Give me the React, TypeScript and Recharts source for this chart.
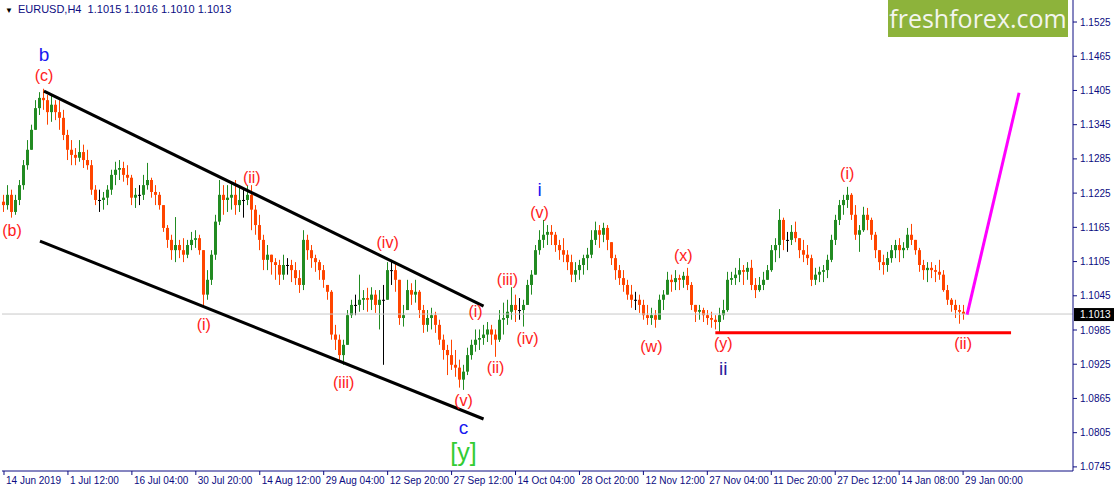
import { ComposedChart, Bar, XAxis, YAxis, ReferenceLine, ReferenceDot } from 'recharts'

// EURUSD H4, each candle here folds four H4 bars together
const highs = [
  1.1222, 1.1239, 1.1231, 1.1222, 1.1248, 1.1283, 1.1318, 1.1345, 1.1388, 1.1402,
  1.1408, 1.1397, 1.1397, 1.1388, 1.1388, 1.1371, 1.1336, 1.1318, 1.1304, 1.1318,
  1.1310, 1.1301, 1.1283, 1.1239, 1.1231, 1.1227, 1.1239, 1.1266, 1.1280, 1.1283,
  1.1280, 1.1274, 1.1257, 1.1234, 1.1239, 1.1257, 1.1278, 1.1252, 1.1239, 1.1227,
  1.1204, 1.1169, 1.1152, 1.1183, 1.1143, 1.1146, 1.1143, 1.1157, 1.1160, 1.1152,
  1.1125, 1.1090, 1.1125, 1.1187, 1.1248, 1.1239, 1.1239, 1.1243, 1.1248, 1.1234,
  1.1231, 1.1239, 1.1239, 1.1204, 1.1187, 1.1152, 1.1134, 1.1117, 1.1111, 1.1108,
  1.1117, 1.1111, 1.1108, 1.1104, 1.1090, 1.1160, 1.1152, 1.1134, 1.1117, 1.1108,
  1.1099, 1.1064, 1.1055, 1.0994, 1.0977, 1.0968, 1.1020, 1.1038, 1.1047, 1.1082,
  1.1055, 1.1059, 1.1060, 1.1055, 1.1055, 1.1064, 1.1104, 1.1108, 1.1104, 1.1073,
  1.1029, 1.1073, 1.1067, 1.1073, 1.1055, 1.1029, 1.1020, 1.1024, 1.1017, 1.1003,
  1.0977, 1.0959, 1.0968, 1.0950, 1.0933, 1.0924, 1.0954, 1.0968, 1.0986, 1.0986,
  1.0994, 1.0999, 1.0994, 1.0986, 1.1020, 1.1033, 1.1038, 1.1060, 1.1047, 1.1041,
  1.1038, 1.1073, 1.1090, 1.1134, 1.1160, 1.1178, 1.1169, 1.1169, 1.1157, 1.1143,
  1.1146, 1.1125, 1.1117, 1.1104, 1.1108, 1.1117, 1.1129, 1.1160, 1.1175, 1.1169,
  1.1173, 1.1169, 1.1139, 1.1117, 1.1099, 1.1090, 1.1073, 1.1064, 1.1052, 1.1047,
  1.1038, 1.1029, 1.1024, 1.1020, 1.1047, 1.1055, 1.1087, 1.1082, 1.1090, 1.1082,
  1.1087, 1.1094, 1.1069, 1.1029, 1.1029, 1.1024, 1.1020, 1.1017, 1.1011, 1.1024,
  1.1038, 1.1087, 1.1087, 1.1094, 1.1111, 1.1099, 1.1104, 1.1108, 1.1076, 1.1078,
  1.1087, 1.1099, 1.1134, 1.1146, 1.1197, 1.1182, 1.1157, 1.1169, 1.1175, 1.1146,
  1.1143, 1.1134, 1.1117, 1.1094, 1.1096, 1.1099, 1.1117, 1.1152, 1.1187, 1.1213,
  1.1222, 1.1236, 1.1225, 1.1204, 1.1169, 1.1201, 1.1199, 1.1182, 1.1157, 1.1125,
  1.1117, 1.1122, 1.1134, 1.1143, 1.1146, 1.1139, 1.1164, 1.1171, 1.1143, 1.1129,
  1.1108, 1.1104, 1.1104, 1.1099, 1.1108, 1.1090, 1.1064, 1.1041, 1.1038, 1.1029, 1.1029,
]

const lows = [
  1.1192, 1.1196, 1.1182, 1.1187, 1.1204, 1.1231, 1.1266, 1.1301, 1.1336, 1.1362,
  1.1371, 1.1345, 1.1350, 1.1353, 1.1336, 1.1318, 1.1283, 1.1274, 1.1274, 1.1280,
  1.1269, 1.1266, 1.1222, 1.1204, 1.1192, 1.1196, 1.1204, 1.1222, 1.1239, 1.1248,
  1.1245, 1.1239, 1.1204, 1.1199, 1.1204, 1.1213, 1.1231, 1.1217, 1.1204, 1.1196,
  1.1157, 1.1129, 1.1108, 1.1104, 1.1111, 1.1104, 1.1111, 1.1125, 1.1129, 1.1117,
  1.1024, 1.1038, 1.1064, 1.1108, 1.1169, 1.1187, 1.1192, 1.1196, 1.1187, 1.1192,
  1.1182, 1.1204, 1.1160, 1.1152, 1.1125, 1.1090, 1.1090, 1.1082, 1.1073, 1.1064,
  1.1073, 1.1082, 1.1069, 1.1064, 1.1050, 1.1055, 1.1108, 1.1094, 1.1087, 1.1073,
  1.1059, 1.1038, 1.0968, 1.0950, 1.0929, 1.0924, 1.0959, 1.1006, 1.1011, 1.1017,
  1.1020, 1.1017, 1.1020, 1.1015, 1.0986, 1.0924, 1.1038, 1.1064, 1.1052, 1.0994,
  1.0991, 1.1020, 1.1029, 1.1033, 1.1006, 1.0980, 1.0982, 1.0986, 1.0980, 1.0959,
  1.0933, 1.0906, 1.0915, 1.0903, 1.0884, 1.0880, 1.0906, 1.0933, 1.0947, 1.0950,
  1.0959, 1.0964, 1.0959, 1.0938, 1.0964, 1.0977, 1.0994, 1.1003, 1.0999, 1.1003,
  1.0991, 1.1029, 1.1047, 1.1082, 1.1117, 1.1129, 1.1134, 1.1134, 1.1122, 1.1108,
  1.1104, 1.1090, 1.1069, 1.1069, 1.1073, 1.1082, 1.1090, 1.1111, 1.1134, 1.1129,
  1.1139, 1.1125, 1.1099, 1.1073, 1.1064, 1.1052, 1.1038, 1.1024, 1.1020, 1.1015,
  1.1003, 1.0994, 1.0994, 1.0989, 1.1003, 1.1020, 1.1047, 1.1052, 1.1055, 1.1055,
  1.1059, 1.1055, 1.1020, 1.0999, 1.1003, 1.0999, 1.0994, 1.0989, 1.0986, 1.0980,
  1.1003, 1.1017, 1.1064, 1.1064, 1.1069, 1.1064, 1.1073, 1.1055, 1.1041, 1.1052,
  1.1055, 1.1073, 1.1087, 1.1104, 1.1111, 1.1125, 1.1122, 1.1134, 1.1139, 1.1111,
  1.1104, 1.1099, 1.1062, 1.1064, 1.1069, 1.1069, 1.1076, 1.1104, 1.1134, 1.1169,
  1.1187, 1.1199, 1.1178, 1.1143, 1.1122, 1.1157, 1.1160, 1.1143, 1.1111, 1.1090,
  1.1082, 1.1087, 1.1103, 1.1111, 1.1104, 1.1111, 1.1125, 1.1134, 1.1117, 1.1087,
  1.1073, 1.1069, 1.1076, 1.1069, 1.1073, 1.1052, 1.1029, 1.1017, 1.1006, 1.0996, 1.1003,
]

const closes = [
  1.1204, 1.1222, 1.1192, 1.1213, 1.1239, 1.1274, 1.1301, 1.1336, 1.1374, 1.1392,
  1.1388, 1.1367, 1.1380, 1.1367, 1.1357, 1.1327, 1.1301, 1.1292, 1.1287, 1.1297,
  1.1283, 1.1274, 1.1231, 1.1213, 1.1213, 1.1217, 1.1231, 1.1257, 1.1266, 1.1269,
  1.1257, 1.1252, 1.1217, 1.1222, 1.1222, 1.1239, 1.1248, 1.1227, 1.1222, 1.1204,
  1.1164, 1.1143, 1.1125, 1.1134, 1.1125, 1.1117, 1.1134, 1.1143, 1.1146, 1.1125,
  1.1047, 1.1073, 1.1117, 1.1175, 1.1222, 1.1213, 1.1217, 1.1222, 1.1204, 1.1213,
  1.1213, 1.1222, 1.1196, 1.1169, 1.1143, 1.1108, 1.1117, 1.1104, 1.1099, 1.1082,
  1.1099, 1.1099, 1.1090, 1.1076, 1.1064, 1.1143, 1.1125, 1.1111, 1.1104, 1.1090,
  1.1073, 1.1052, 1.0977, 1.0968, 1.0941, 1.0959, 1.1011, 1.1029, 1.1029, 1.1038,
  1.1041, 1.1038, 1.1047, 1.1029, 1.1038, 1.1038, 1.1090, 1.1090, 1.1073, 1.1006,
  1.1011, 1.1055, 1.1047, 1.1052, 1.1020, 1.0994, 1.1006, 1.1011, 1.0994, 1.0968,
  1.0950, 1.0941, 1.0924, 1.0919, 1.0898, 1.0912, 1.0941, 1.0959, 1.0968, 1.0971,
  1.0977, 1.0986, 1.0977, 1.0968, 1.1003, 1.1006, 1.1017, 1.1029, 1.1020, 1.1020,
  1.1029, 1.1064, 1.1082, 1.1125, 1.1143, 1.1152, 1.1157, 1.1152, 1.1134, 1.1125,
  1.1117, 1.1104, 1.1082, 1.1090, 1.1099, 1.1111, 1.1117, 1.1143, 1.1160, 1.1152,
  1.1164, 1.1143, 1.1111, 1.1090, 1.1076, 1.1064, 1.1047, 1.1038, 1.1038, 1.1029,
  1.1011, 1.1006, 1.1011, 1.1003, 1.1038, 1.1047, 1.1073, 1.1069, 1.1076, 1.1073,
  1.1080, 1.1064, 1.1029, 1.1017, 1.1020, 1.1011, 1.1006, 1.1003, 1.0999, 1.1011,
  1.1020, 1.1073, 1.1076, 1.1082, 1.1090, 1.1087, 1.1094, 1.1064, 1.1055, 1.1064,
  1.1073, 1.1090, 1.1125, 1.1134, 1.1178, 1.1143, 1.1143, 1.1157, 1.1146, 1.1125,
  1.1117, 1.1111, 1.1073, 1.1082, 1.1087, 1.1090, 1.1108, 1.1143, 1.1178, 1.1204,
  1.1213, 1.1222, 1.1187, 1.1152, 1.1160, 1.1187, 1.1178, 1.1152, 1.1125, 1.1104,
  1.1099, 1.1111, 1.1125, 1.1134, 1.1125, 1.1129, 1.1152, 1.1143, 1.1125, 1.1099,
  1.1090, 1.1094, 1.1090, 1.1087, 1.1082, 1.1055, 1.1038, 1.1029, 1.1020, 1.1017, 1.1013,
]
const firstOpen = 1.1210

const dateLabels = [
  '14 Jun 2019', '1 Jul 12:00', '16 Jul 04:00', '30 Jul 20:00', '14 Aug 12:00',
  '29 Aug 04:00', '12 Sep 20:00', '27 Sep 12:00', '14 Oct 04:00', '28 Oct 20:00',
  '12 Nov 12:00', '27 Nov 04:00', '11 Dec 20:00', '27 Dec 12:00', '14 Jan 08:00',
  '29 Jan 00:00',
]
const priceTicks = [
  1.0745, 1.0805, 1.0865, 1.0925, 1.0985, 1.1045, 1.1105,
  1.1165, 1.1225, 1.1285, 1.1345, 1.1405, 1.1465, 1.1525,
]
const lastPrice = 1.1013
const quote = ['1.1015', '1.1016', '1.1010', '1.1013']

// chart is shifted left: empty slots after the last candle
const SLOTS = 268
const LABEL_STEP = 16
const PRICE_MIN = 1.07378
const PRICE_MAX = 1.15636

// trend lines, x in candle slots
const channelTop = [{ x: 10, y: 1.1404 }, { x: 120, y: 1.1027 }]
const channelBottom = [{ x: 9, y: 1.1141 }, { x: 120, y: 1.0829 }]
const support = [{ x: 178, y: 1.0980 }, { x: 252, y: 1.0980 }]
const projection = [{ x: 241, y: 1.1012 }, { x: 254, y: 1.1401 }]

// wave count marks
const waveText = ['b', '(c)', '(b)', '(ii)', '(i)', '(iii)', '(iv)', '(v)', 'c', '[y]',
  '(i)', '(ii)', '(iii)', '(iv)', 'i', '(v)', '(w)', '(x)', '(y)', 'ii', '(i)', '(ii)']
const waveSlot = [10, 10, 2, 62, 50, 85, 96, 115, 115, 115,
  118, 123, 126, 131, 134, 134, 162, 170, 180, 180, 211, 240]
const wavePrice = [1.1469, 1.1432, 1.1160, 1.1253, 1.0994, 1.0894, 1.1139, 1.0862, 1.0815, 1.0771,
  1.1018, 1.0920, 1.1073, 1.0971, 1.1231, 1.1192, 1.0957, 1.1115, 1.0961, 1.0918, 1.1260, 1.0962]
const waveDegree = ['major', 'minor', 'minor', 'minor', 'minor', 'minor', 'minor', 'minor', 'major', 'cycle',
  'minor', 'minor', 'minor', 'minor', 'major', 'minor', 'minor', 'minor', 'minor', 'intermediate', 'minor', 'minor']

const degreeStyle: Record<string, { fill: string; size: number }> = {
  minor: { fill: '#ff1a1a', size: 16 },
  major: { fill: '#1818f0', size: 19 },
  intermediate: { fill: '#2a1c9c', size: 19 },
  cycle: { fill: '#33cc33', size: 25 },
}

const NAVY = '#0c0c82'
const BULL = '#228b22'
const BEAR = '#ff4500'
const FONT = '"Liberation Sans", Arial, sans-serif'

const rows = Array.from({ length: SLOTS }, (_, i) => {
  if (i >= closes.length) return { idx: i }
  const prev = i === 0 ? firstOpen : closes[i - 1]
  const open = Math.min(highs[i], Math.max(lows[i], prev))
  return { idx: i, range: [lows[i], highs[i]], open, high: highs[i], low: lows[i], close: closes[i] }
})

function Candle(props: any) {
  const { x, y, width, height, payload } = props
  if (!payload || payload.close == null) return null
  const top = Math.min(y, y + height)
  const bot = Math.max(y, y + height)
  const span = payload.high - payload.low || 1
  const py = (v: number) => top + ((payload.high - v) / span) * (bot - top)
  const cx = Math.floor(x + width / 2)
  const color = payload.close > payload.open ? BULL : payload.close < payload.open ? BEAR : '#000'
  const o = py(payload.open)
  const c = py(payload.close)
  return (
    <g>
      <line x1={cx + 0.5} x2={cx + 0.5} y1={top} y2={Math.max(bot, top + 1)} stroke={color} strokeWidth={1} />
      <rect x={cx - 1} y={Math.min(o, c)} width={3} height={Math.max(1, Math.abs(o - c))} fill={color} />
    </g>
  )
}

function DateTick({ x, y, payload }: any) {
  return (
    <text x={x + 2} y={y} dy={9} fill={NAVY} fontSize={10} fontFamily={FONT} textAnchor="start">
      {dateLabels[payload.value / LABEL_STEP]}
    </text>
  )
}

function PriceTick({ x, y, payload }: any) {
  return (
    <text x={x} y={y} dy={3.5} fill={NAVY} fontSize={10} fontFamily={FONT} textAnchor="start">
      {payload.value.toFixed(4)}
    </text>
  )
}

function PriceTag({ viewBox }: any) {
  const right = viewBox.x + viewBox.width
  const cy = viewBox.y
  return (
    <g>
      <rect x={right + 1} y={cy - 6} width={40} height={13} fill="#000" />
      <text x={right + 7} y={cy + 4} fill="#fff" fontSize={10} fontFamily={FONT}>
        {lastPrice.toFixed(4)}
      </text>
    </g>
  )
}

export default function App() {
  return (
    <div style={{ position: 'absolute', left: 0, top: 0, width: 1115, height: 492, background: '#fff' }}>
      <ComposedChart width={1115} height={492} data={rows} margin={{ top: 0, right: 0, bottom: 0, left: 2 }}>
        <XAxis
          dataKey="idx"
          type="category"
          ticks={dateLabels.map((_, k) => k * LABEL_STEP)}
          interval={0}
          tick={<DateTick />}
          tickSize={4}
          tickMargin={0}
          height={21}
          axisLine={{ stroke: NAVY }}
          tickLine={{ stroke: NAVY }}
        />
        <YAxis
          orientation="right"
          domain={[PRICE_MIN, PRICE_MAX]}
          allowDataOverflow
          ticks={priceTicks}
          interval={0}
          tick={<PriceTick />}
          tickSize={4}
          tickMargin={3}
          width={42}
          axisLine={{ stroke: NAVY }}
          tickLine={{ stroke: NAVY }}
        />
        <YAxis
          yAxisId="frame"
          orientation="left"
          domain={[PRICE_MIN, PRICE_MAX]}
          width={0}
          tick={false}
          tickLine={false}
          axisLine={{ stroke: NAVY }}
        />
        <ReferenceLine y={lastPrice} stroke="#c8c8c8" strokeWidth={1} label={<PriceTag />} />
        <Bar dataKey="range" shape={<Candle />} isAnimationActive={false} />
        <ReferenceLine segment={channelTop} stroke="#000" strokeWidth={3} />
        <ReferenceLine segment={channelBottom} stroke="#000" strokeWidth={3} />
        <ReferenceLine segment={support} stroke="#ff0000" strokeWidth={3} />
        <ReferenceLine segment={projection} stroke="#ff00ff" strokeWidth={3} />
        {waveText.map((t, k) => {
          const st = degreeStyle[waveDegree[k]]
          return (
            <ReferenceDot
              key={k}
              x={waveSlot[k]}
              y={wavePrice[k]}
              r={0}
              shape={(p: any) => (
                <text
                  x={p.cx}
                  y={p.cy}
                  dy={st.size * 0.35}
                  textAnchor="middle"
                  fill={st.fill}
                  fontSize={st.size}
                  fontFamily={FONT}
                >
                  {t}
                </text>
              )}
            />
          )
        })}
      </ComposedChart>

      <div
        style={{
          position: 'absolute', left: 5, top: 3, fontFamily: FONT, fontSize: 11,
          color: NAVY, whiteSpace: 'pre', lineHeight: '13px',
        }}
      >
        <span style={{ fontSize: 8, color: '#000', marginRight: 5 }}>▼</span>
        {'EURUSD,H4  ' + quote.join(' ')}
      </div>

      <div
        style={{
          position: 'absolute', left: 888, top: 0, width: 180, height: 37, background: '#8db33b',
          color: '#f3f5ee', fontFamily: '"Open Sans", "Noto Sans", sans-serif', fontSize: 25,
          lineHeight: '37px', textAlign: 'center',
        }}
      >
        freshforex.com
      </div>
    </div>
  )
}
